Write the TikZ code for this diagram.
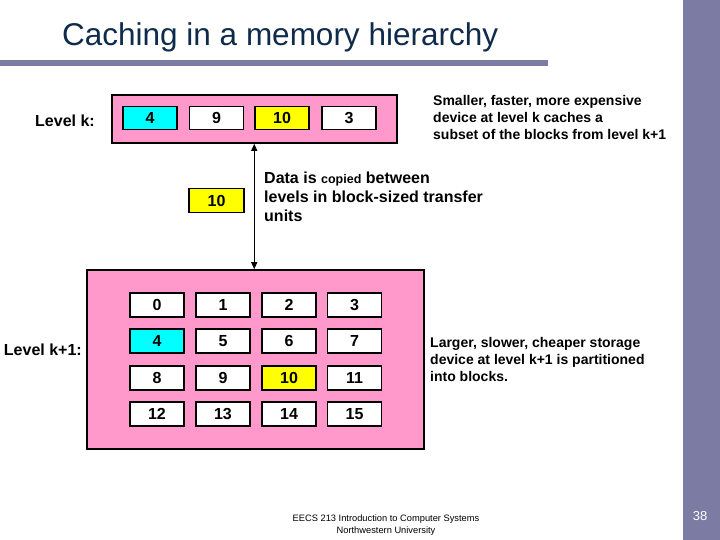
\documentclass[tikz,border=0pt]{standalone}
\usepackage{fontspec}
\setmainfont{Liberation Sans}
\usetikzlibrary{arrows.meta}
\definecolor{barcol}{RGB}{123,123,164}
\definecolor{titlecol}{RGB}{15,43,75}
\definecolor{pinkbox}{RGB}{255,153,204}
\definecolor{cyanbox}{RGB}{0,255,255}
\definecolor{yellowbox}{RGB}{255,255,0}
\tikzset{
  cellbox/.style={draw=black, line width=1.5pt, fill=white, minimum width=54pt, minimum height=23pt, inner sep=0pt, font=\fontsize{16}{19}\selectfont\bfseries},
  membox/.style={draw=black, line width=1.6pt, fill=pinkbox, inner sep=0pt},
  lbl/.style={inner sep=0pt, font=\fontsize{16}{19}\selectfont\bfseries},
  note/.style={inner sep=0pt, align=left, anchor=west, font=\fontsize{14}{17}\selectfont\bfseries},
}
\begin{document}
\begin{tikzpicture}[x=1pt,y=-1pt]
\useasboundingbox (0,0) rectangle (720,540);
% side bar and title rule
\fill[barcol] (683,0) rectangle (720,540);
\fill[barcol] (0,60) rectangle (548,66);
\node[anchor=base west, inner sep=0pt, text=titlecol, font=\fontsize{31.5}{36}\selectfont] (title) at (62,46) {Caching in a memory hierarchy};

% level k
\node[membox, minimum width=285pt, minimum height=48pt] (kbox) at (254.5,119) {};
\node[cellbox, fill=cyanbox] (k4) at (150,118) {4};
\node[cellbox] (k9) at (216.5,118) {9};
\node[cellbox, fill=yellowbox] (k10) at (282,118) {10};
\node[cellbox] (k3) at (349,118) {3};
\node[lbl, anchor=east] (lk) at (95,121) {Level k:};

% transfer block
\node[cellbox, fill=yellowbox, minimum width=55pt, minimum height=24pt] (t10) at (216.5,200.5) {10};

% level k+1
\node[membox, minimum width=337pt, minimum height=179pt] (k1box) at (255.5,359.5) {};
\foreach \r/\y in {0/305,1/341,2/378,3/414}{
  \foreach \c/\x in {0/157,1/223,2/289,3/354.5}{
    \pgfmathtruncatemacro{\n}{4*\r+\c}
    \node[cellbox, minimum height=24pt] (m\n) at (\x,\y) {\n};
  }
}
\node[cellbox, minimum height=24pt, fill=cyanbox] (m4b) at (157,341) {4};
\node[cellbox, minimum height=24pt, fill=yellowbox] (m10b) at (289,378) {10};
\node[lbl, anchor=east] (lk1) at (82,350) {Level k+1:};

% arrow
\draw[line width=1pt, {Triangle[length=7pt,width=6pt]}-{Triangle[length=7pt,width=6pt]}] (k10.west |- kbox.south) -- (k10.west |- k1box.north);

% notes
\node[note] (n1) at (433,117) {Smaller, faster, more expensive\\device at level k caches a\\subset of the blocks from level k+1};
\node[note, font=\fontsize{16}{19}\selectfont\bfseries] (n2) at (264,197) {Data is {\fontsize{12.5}{19}\selectfont copied} between\\levels in block-sized transfer\\units};
\node[note] (n3) at (430,359) {Larger, slower, cheaper storage\\device at level k+1 is partitioned\\into blocks.};

% footer
\node[inner sep=0pt, align=center, font=\fontsize{9.3}{11.5}\selectfont] (foot) at (386,525) {EECS 213 Introduction to Computer Systems\\Northwestern University};
\node[inner sep=0pt, text=white, font=\fontsize{13}{15}\selectfont] (pg) at (700,516.5) {38};
\end{tikzpicture}
\end{document}
